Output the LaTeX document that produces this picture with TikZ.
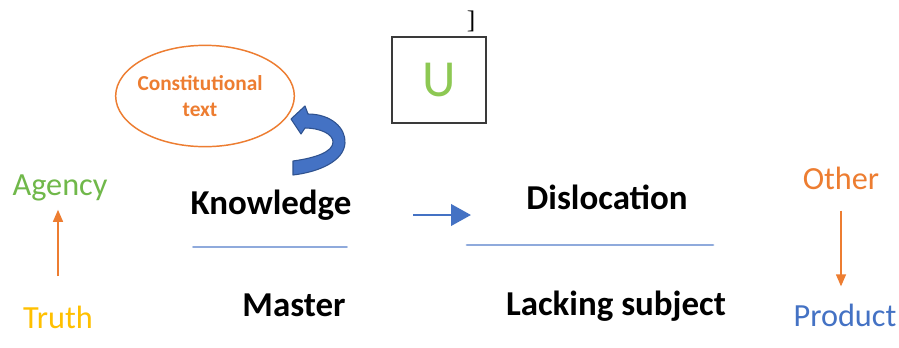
\documentclass[tikz,border=0pt]{standalone}
\usepackage{fontspec}
\setmainfont{Carlito}
\newfontfamily\bracketfont{Liberation Serif}
\usetikzlibrary{arrows.meta,shapes.geometric}

\definecolor{orangec}{HTML}{ED7D31}
\definecolor{bluec}{HTML}{4472C4}
\definecolor{bluedark}{HTML}{2F528F}
\definecolor{agencyc}{HTML}{70B84A}
\definecolor{ugreen}{HTML}{8DC853}
\definecolor{truthc}{HTML}{FFC000}
\definecolor{linec}{HTML}{8FAADC}
\definecolor{boxc}{HTML}{3A3A3A}

\tikzset{
  txt/.style={inner sep=0pt, anchor=base},
  boldtxt/.style={txt, font=\fontsize{26.2pt}{30pt}\selectfont\bfseries},
  plaintxt/.style={txt, font=\fontsize{24.2pt}{28pt}\selectfont},
  consttxt/.style={txt, text=orangec, font=\fontsize{16pt}{19.5pt}\selectfont\bfseries},
  thinarrow/.style={draw=orangec, line width=1pt, -{Triangle[length=9pt,width=7.5pt]}},
  flowarrow/.style={draw=bluec, line width=2.2pt, -{Triangle[length=15pt,width=16pt]}},
  sepline/.style={draw=linec, line cap=round},
}

\begin{document}
\begin{tikzpicture}[x=0.75pt,y=-0.75pt]
  % canvas
  \fill[white] (0,0) rectangle (899,347);
  \useasboundingbox (0,0) rectangle (899,347);

  % ellipse with its label
  \node[draw=orangec, line width=1.1pt, ellipse, minimum width=134pt,
        minimum height=76pt, inner sep=0pt] (ctext) at (205,96) {};
  \node[consttxt] (constA) at (200,90) {Constitutional};
  \node[consttxt] (constB) at (200,116) {text};

  % curved block arrow pointing back to the ellipse
  \filldraw[fill=bluec, draw=bluedark, line width=0.8pt, line join=round]
    (308,114) .. controls (331,114) and (346,128) .. (345,143)
    .. controls (344,161) and (319,172) .. (293,175)
    -- (293,161)
    .. controls (315,158) and (333,152) .. (333,142)
    .. controls (333,134) and (320,128) .. (305,128)
    -- (301,134) -- (291,119) -- (305,106) -- cycle;

  % boxed U
  \node[draw=boxc, line width=1.5pt, minimum width=70.5pt, minimum height=64.5pt,
        inner sep=0pt] (ubox) at (439,80) {};
  \node[txt, text=ugreen, font=\fontsize{39pt}{44pt}\selectfont] (ulabel) at (439,96) {U};
  \node[txt, font=\bracketfont\fontsize{19pt}{22pt}\selectfont] (bracket) at (471,28) {]};

  % left column
  \node[plaintxt, text=agencyc] (agency) at (60,195) {Agency};
  \node[plaintxt, text=truthc] (truth) at (58,328) {Truth};
  \draw[thinarrow, shorten <=22pt, shorten >=6.75pt]
    (truth.north) -- (truth.north |- agency.south);

  % middle columns
  \node[boldtxt] (knowledge) at (271,214) {Knowledge};
  \node[boldtxt] (master) at (294,316) {Master};
  \draw[sepline, line width=1.2pt] (193,247) -- (347,247);

  \coordinate (flowtail) at (413,215);
  \coordinate (flowtip) at (471,215);
  \draw[flowarrow] (flowtail) -- (flowtip);

  \node[boldtxt] (dislocation) at (607,209) {Dislocation};
  \node[boldtxt] (lacking) at (616,315) {Lacking subject};
  \draw[sepline, line width=2.2pt] (467,245) -- (713,245);

  % right column
  \node[plaintxt, text=orangec] (other) at (841,189) {Other};
  \node[plaintxt, text=bluec] (product) at (845,326) {Product};
  \draw[thinarrow, shorten <=15.75pt, shorten >=12.75pt]
    (other.south) -- (other.south |- product.north);
\end{tikzpicture}
\end{document}
